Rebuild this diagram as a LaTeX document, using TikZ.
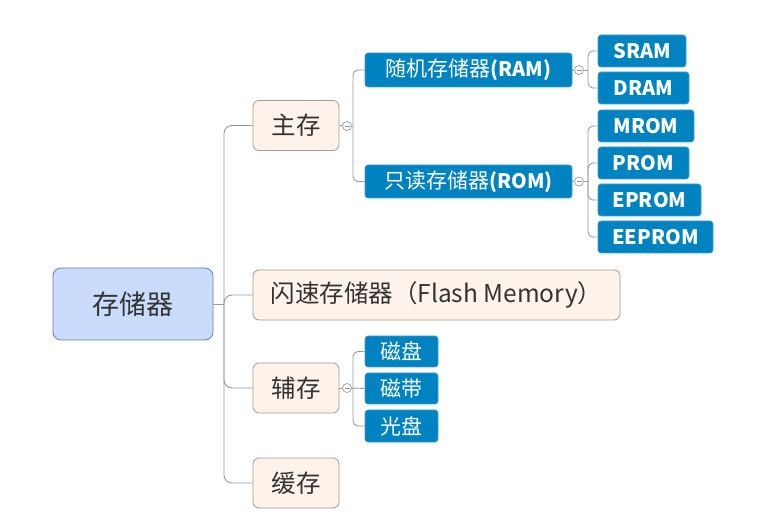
\documentclass[tikz,border=0pt]{standalone}
\usepackage{fontspec}
\setmainfont{Noto Sans CJK SC}
\definecolor{rootfill}{HTML}{C9DCFB}
\definecolor{rootdraw}{HTML}{6A7DA6}
\definecolor{subfill}{HTML}{FDF3EA}
\definecolor{subdraw}{HTML}{A39A92}
\definecolor{leaffill}{HTML}{0083C0}
\definecolor{leafdraw}{HTML}{3A9FD0}
\definecolor{linecol}{HTML}{9A9A9A}
\definecolor{txt}{HTML}{333333}
\begin{document}
\begin{tikzpicture}[x=1pt,y=-1pt,
  rootbox/.style={draw=rootdraw,fill=rootfill,rounded corners=8pt,line width=0.8pt,
    minimum width=160pt,minimum height=72pt,inner sep=0pt,text=txt,font=\fontsize{27}{30}\selectfont},
  subbox/.style={draw=subdraw,fill=subfill,rounded corners=6pt,line width=0.8pt,
    minimum height=50pt,inner sep=0pt,text=txt,font=\fontsize{24.5}{28}\selectfont},
  leafbox/.style={draw=leafdraw,fill=leaffill,rounded corners=3pt,line width=0.6pt,
    minimum height=32pt,inner sep=0pt,text=white,font=\fontsize{21}{24}\selectfont},
  conn/.style={draw=linecol,line width=0.9pt},
  circ/.style={circle,draw=linecol,fill=white,line width=0.7pt,minimum size=9pt,inner sep=0pt,
    path picture={\draw[draw=rootdraw!80,line width=0.6pt]
      ([xshift=-2.5pt]path picture bounding box.center) -- ([xshift=2.5pt]path picture bounding box.center);}}
]
\useasboundingbox (0,0) rectangle (777,521);
\fill[white] (0,0) rectangle (777,521);

% nodes
\node[rootbox] (root) at (133,304) {存储器};
\node[subbox,minimum width=86pt] (zc) at (296,125.5) {主存};
\node[subbox,minimum width=367pt] (flash) at (436.5,295) {闪速存储器（Flash Memory）};
\node[subbox,minimum width=86pt] (fc) at (296,388) {辅存};
\node[subbox,minimum width=86pt] (hc) at (296,483) {缓存};

\node[leafbox,minimum width=207pt,minimum height=34pt] (ram) at (468.5,70) {随机存储器\textbf{\fontsize{20}{24}\selectfont(RAM)}};
\node[leafbox,minimum width=207pt,minimum height=33pt] (rom) at (468.5,181.5) {只读存储器\textbf{\fontsize{20}{24}\selectfont(ROM)}};

\node[leafbox,minimum width=88pt,font=\bfseries\fontsize{20}{24}\selectfont] (sram) at (642,51) {SRAM};
\node[leafbox,minimum width=91pt,font=\bfseries\fontsize{20}{24}\selectfont] (dram) at (643.5,88) {DRAM};
\node[leafbox,minimum width=96pt,font=\bfseries\fontsize{20}{24}\selectfont] (mrom) at (646,126) {MROM};
\node[leafbox,minimum width=91pt,font=\bfseries\fontsize{20}{24}\selectfont] (prom) at (643.5,163) {PROM};
\node[leafbox,minimum width=103pt,font=\bfseries\fontsize{20}{24}\selectfont] (eprom) at (649.5,200) {EPROM};
\node[leafbox,minimum width=115pt,font=\bfseries\fontsize{20}{24}\selectfont] (eeprom) at (655.5,237) {EEPROM};

\node[leafbox,minimum width=73pt,minimum height=31pt] (cp) at (401.5,351.5) {磁盘};
\node[leafbox,minimum width=73pt,minimum height=31pt] (cd) at (401.5,388.5) {磁带};
\node[leafbox,minimum width=73pt,minimum height=32pt] (gp) at (401.5,426) {光盘};

% collapse markers
\node[circ] (c1) at (347,126) {};
\node[circ] (c2) at (579,70) {};
\node[circ] (c3) at (579,181.5) {};
\node[circ] (c4) at (347,388) {};

% junctions
\coordinate (t0) at (224,304);
\coordinate (t1) at (353,126);
\coordinate (t2) at (588,70);
\coordinate (t3) at (588,181.5);
\coordinate (t4) at (353,388);

% connectors
\draw[conn] (root.east) -- (t0);
\draw[conn,rounded corners=8pt] (t0) |- (zc.west);
\draw[conn,rounded corners=8pt] (t0) |- (flash.west);
\draw[conn,rounded corners=8pt] (t0) |- (fc.west);
\draw[conn,rounded corners=8pt] (t0) |- (hc.west);

\draw[conn] (zc.east) -- (c1.west);
\draw[conn] (c1.east) -- (t1);
\draw[conn,rounded corners=5pt] (t1) |- (ram.west);
\draw[conn,rounded corners=5pt] (t1) |- (rom.west);

\draw[conn] (ram.east) -- (c2.west);
\draw[conn] (c2.east) -- (t2);
\draw[conn,rounded corners=5pt] (t2) |- (sram.west);
\draw[conn,rounded corners=5pt] (t2) |- (dram.west);

\draw[conn] (rom.east) -- (c3.west);
\draw[conn] (c3.east) -- (t3);
\draw[conn,rounded corners=5pt] (t3) |- (mrom.west);
\draw[conn,rounded corners=5pt] (t3) |- (prom.west);
\draw[conn,rounded corners=5pt] (t3) |- (eprom.west);
\draw[conn,rounded corners=5pt] (t3) |- (eeprom.west);

\draw[conn] (fc.east) -- (c4.west);
\draw[conn] (c4.east) -- (t4);
\draw[conn,rounded corners=5pt] (t4) |- (cp.west);
\draw[conn] (t4) -- (cd.west);
\draw[conn,rounded corners=5pt] (t4) |- (gp.west);
\end{tikzpicture}
\end{document}
